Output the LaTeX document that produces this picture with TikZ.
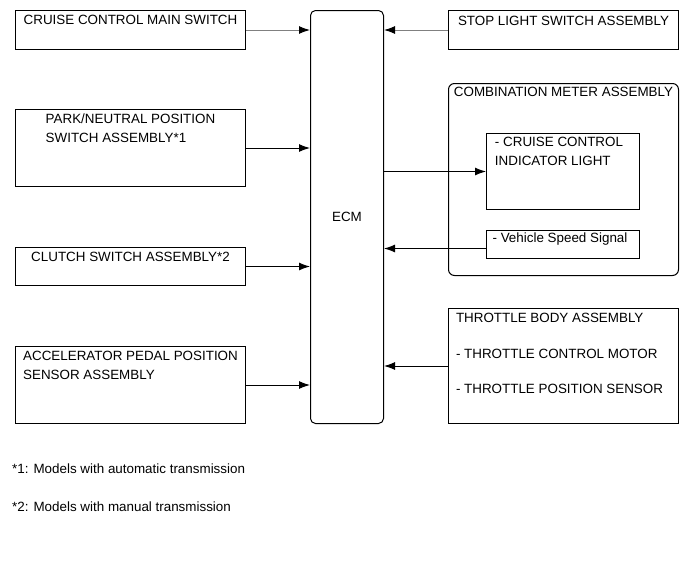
\documentclass[tikz,border=0pt]{standalone}
\usepackage{fontspec}
\setmainfont{Liberation Sans}
\usetikzlibrary{arrows.meta,positioning}

\begin{document}
\begin{tikzpicture}[x=1pt, y=-1pt, font=\fontsize{13.4}{19}\selectfont,
    box/.style={rectangle, draw, anchor=north west, minimum width=230pt, inner sep=0pt, line width=1pt},
    title/.style={anchor=north, align=left, inner sep=0pt, yshift=-5pt},
    arrow/.style={line width=1pt, -{Latex[length=11pt, width=8pt]}},
    greyarrow/.style={arrow, draw=black!50, -{Latex[length=11pt, width=8pt, black]}}]

    \useasboundingbox (0,0) rectangle (691,562);

    % Inputs (left)
    \node [box, minimum height=39pt, label={[title]north:CRUISE CONTROL MAIN SWITCH}] (cruise) at (15,10) {};
    \node [box, minimum height=77pt, label={[title]north:{PARK/NEUTRAL POSITION\\SWITCH ASSEMBLY*1}}] (park) at (15,109) {};
    \node [box, minimum height=38pt, label={[title]north:CLUTCH SWITCH ASSEMBLY*2}] (clutch) at (15,247) {};
    \node [box, minimum height=77pt, label={[title]north:{ACCELERATOR PEDAL POSITION\\SENSOR ASSEMBLY}}] (accel) at (15,346) {};

    % ECM
    \node [box, minimum width=73pt, minimum height=413pt, rounded corners=5pt] (ecm) at (310,10) {ECM};

    % Right side
    \node [box, minimum height=39pt, label={[title, yshift=-1pt]north:STOP LIGHT SWITCH ASSEMBLY}] (stop) at (448,10) {};
    \node [box, minimum height=192pt, rounded corners=6pt, label={[title, yshift=1pt]north:COMBINATION METER ASSEMBLY}] (meter) at (448,83) {};
    \node [box, minimum width=153pt, minimum height=76pt, label={[title, yshift=1pt, xshift=-4pt]north:{- CRUISE CONTROL\\INDICATOR LIGHT}}] (light) at (486,133) {};
    \node [box, minimum width=153pt, minimum height=28pt, label={[title, yshift=2pt, xshift=-3pt]north:- Vehicle Speed Signal}] (speed) at (486,230) {};
    \node [box, minimum height=115pt, label={[title, xshift=-4pt]north:{THROTTLE BODY ASSEMBLY\\[17pt]- THROTTLE CONTROL MOTOR\\[16pt]- THROTTLE POSITION SENSOR}}] (throttle) at (448,308) {};

    % Connections
    \draw[greyarrow] (cruise.east) -- (cruise.east -| ecm.west);
    \draw[arrow] (park.east) -- (park.east -| ecm.west);
    \draw[arrow] (clutch.east) -- (clutch.east -| ecm.west);
    \draw[arrow] (accel.east) -- (accel.east -| ecm.west);
    \draw[greyarrow] (stop.west) -- (stop.west -| ecm.east);
    \draw[arrow] (ecm.east |- light.west) -- (light.west);
    \draw[arrow] ([yshift=-4pt]speed.west) -- ([yshift=-4pt]speed.west -| ecm.east);
    \draw[arrow] (throttle.west) -- (throttle.west -| ecm.east);

    % Notes
    \node [anchor=north west, inner sep=0pt] (note1) at (12,464) {*1: Models with automatic transmission};
    \node [anchor=north west, inner sep=0pt] (note2) at (12,502) {*2: Models with manual transmission};

\end{tikzpicture}
\end{document}
